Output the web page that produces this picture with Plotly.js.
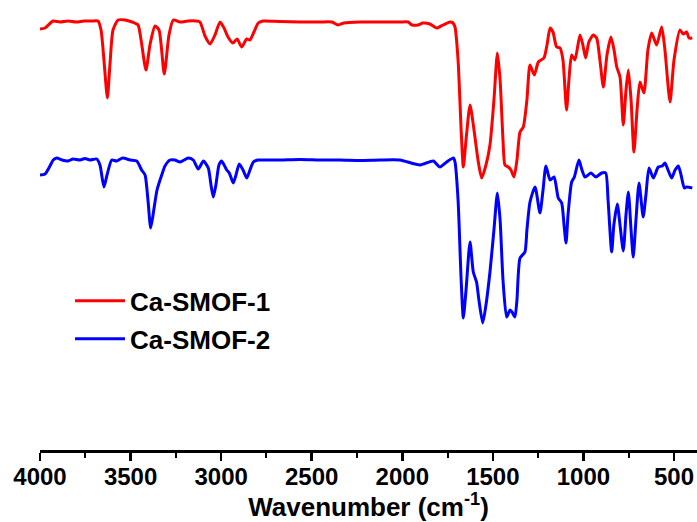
<!DOCTYPE html>
<html>
<head>
<meta charset="utf-8">
<script src="https://cdn.plot.ly/plotly-3.0.1.min.js"></script>
<style>html,body{margin:0;padding:0;background:#fff;}#chart{width:697px;height:522px;}</style>
</head>
<body>
<div id="chart"></div>
<script>
// Wavenumber (cm^-1) and transmittance (arbitrary units, offset traces)
const smof1Wavenumber = [4000,3972,3928,3890,3845,3801,3757,3713,3680,3663,3647,3628,3614,3597,3569,3531,3492,3459,3442,3415,3393,3365,3343,3314,3288,3264,3227,3183,3139,3117,3089,3061,3034,3006,2984,2962,2935,2912,2886,2859,2841,2819,2795,2769,2675,2565,2454,2388,2355,2322,2233,2123,2013,1968,1946,1913,1886,1847,1810,1775,1737,1720,1709,1692,1675,1663,1648,1626,1604,1582,1562,1538,1516,1494,1475,1460,1444,1433,1415,1400,1383,1367,1350,1332,1312,1295,1271,1249,1218,1201,1184,1168,1148,1129,1113,1093,1080,1065,1047,1019,1003,988,970,946,927,909,890,870,848,831,816,798,780,765,752,737,721,704,688,666,644,623,596,568,550,522,500,467,449,430,417,399];
const smof1Signal = [421,422,429,428,429,428,429,429,429,420,390,352,385,420,430,430,428,425,410,380,405,424,420,376,415,430,428,429,429,428,414,406,415,428,422,413,407,411,403,411,410,418,427,429,428.5,428,428,428,425,427,428,428,428,428,425,425,427,426,422,425,428,427,423,390,320,283,310,345,320,290,272,285,305,350,397,370,310,285,283,280,273,290,318,323,350,385,375,388,392,405,422,418,403,402,390,340,370,395,390,415,405,392,408,415,412,390,363,395,413,400,383,373,325,360,380,350,298,340,368,357,400,417,405,423,400,348,390,420,416,418,412,412];

const smof2Wavenumber = [4000,3972,3945,3927,3908,3879,3845,3818,3779,3752,3724,3687,3669,3647,3630,3604,3577,3543,3503,3466,3439,3420,3404,3389,3376,3354,3328,3310,3282,3255,3227,3181,3154,3126,3098,3071,3056,3043,3029,3012,2997,2969,2955,2933,2918,2900,2879,2859,2841,2822,2797,2767,2675,2565,2454,2344,2233,2123,2013,1902,1829,1792,1755,1718,1709,1692,1675,1663,1648,1626,1608,1590,1577,1556,1538,1516,1494,1475,1460,1444,1424,1405,1394,1378,1367,1350,1323,1312,1295,1267,1240,1223,1207,1184,1162,1139,1120,1107,1096,1085,1065,1050,1025,1008,991,958,932,899,877,864,844,832,813,798,780,765,752,737,725,710,693,670,655,638,614,587,565,550,533,513,494,476,461,443,430,399];
const smof2Signal = [275,276,284,290,292,290,289,291,290,291.5,290,291,285,263,275,290,289,292,290,289,280,275,250,222,235,260,275,284,290,290,288,292,290,281,289,282,265,253,265,285,289,280,277,267,275,286,280,272,280,288,290,290,290,290.5,290,290,289.5,290,290,285,289,283,288,292,288,250,170,132,160,208,178,168,150,127,145,178,220,257,230,170,133,140,138,133,150,192,198,220,248,263,237,260,284,270,273,252,247,225,207,235,268,273,290,280,273,277,273,277,277,250,198,225,246,225,199,235,258,220,193,230,267,233,255,282,272,283,284,287,280,272,280,284,275,262,263,262];

const seriesNames = ['Ca-SMOF-1', 'Ca-SMOF-2'];
const seriesColors = ['#FF0000', '#0000FF'];
const tickValues = [4000,3500,3000,2500,2000,1500,1000,500];

const font = 'Arial, "Liberation Sans", sans-serif';

const traces = [
  {x: smof1Wavenumber, y: smof1Signal, name: seriesNames[0], legendgroup: 'a', type: 'scatter', mode: 'lines',
   line: {color: seriesColors[0], width: 3, shape: 'spline', smoothing: 0.6}},
  {x: smof2Wavenumber, y: smof2Signal, name: seriesNames[1], legendgroup: 'b', type: 'scatter', mode: 'lines',
   line: {color: seriesColors[1], width: 3, shape: 'spline', smoothing: 0.6}}
];

const layout = {
  width: 697, height: 522,
  margin: {l: 40, r: 0, t: 0, b: 72, pad: 0},
  paper_bgcolor: '#fff', plot_bgcolor: '#fff',
  showlegend: true,
  legend: {x: 0.0457, y: 0.289, xanchor: 'left', yanchor: 'middle', bgcolor: 'rgba(0,0,0,0)',
           font: {family: font, size: 26, color: '#000', weight: 'bold'},
           traceorder: 'grouped', tracegroupgap: 1, itemwidth: 50},
  xaxis: {
    range: [4000, 373], autorange: false,
    tickvals: tickValues, ticktext: tickValues.map(String),
    ticks: 'outside', ticklen: 8, tickwidth: 2.5, tickcolor: '#000',
    ticklabelstandoff: -5,
    minor: {dtick: 250, tick0: 0, ticks: 'outside', ticklen: 5, tickwidth: 2, tickcolor: '#000', showgrid: false},
    showline: true, linewidth: 3, linecolor: '#000',
    showgrid: false, zeroline: false,
    tickfont: {family: font, size: 24, color: '#000', weight: 'bold'},
    title: {text: 'Wavenumber (cm<sup>-1</sup>)', font: {family: font, size: 26, color: '#000', weight: 'bold'}, standoff: 0}
  },
  yaxis: {range: [0, 450], autorange: false, visible: false, showgrid: false, zeroline: false}
};

Plotly.newPlot('chart', traces, layout, {displayModeBar: false, staticPlot: true});
</script>
</body>
</html>
